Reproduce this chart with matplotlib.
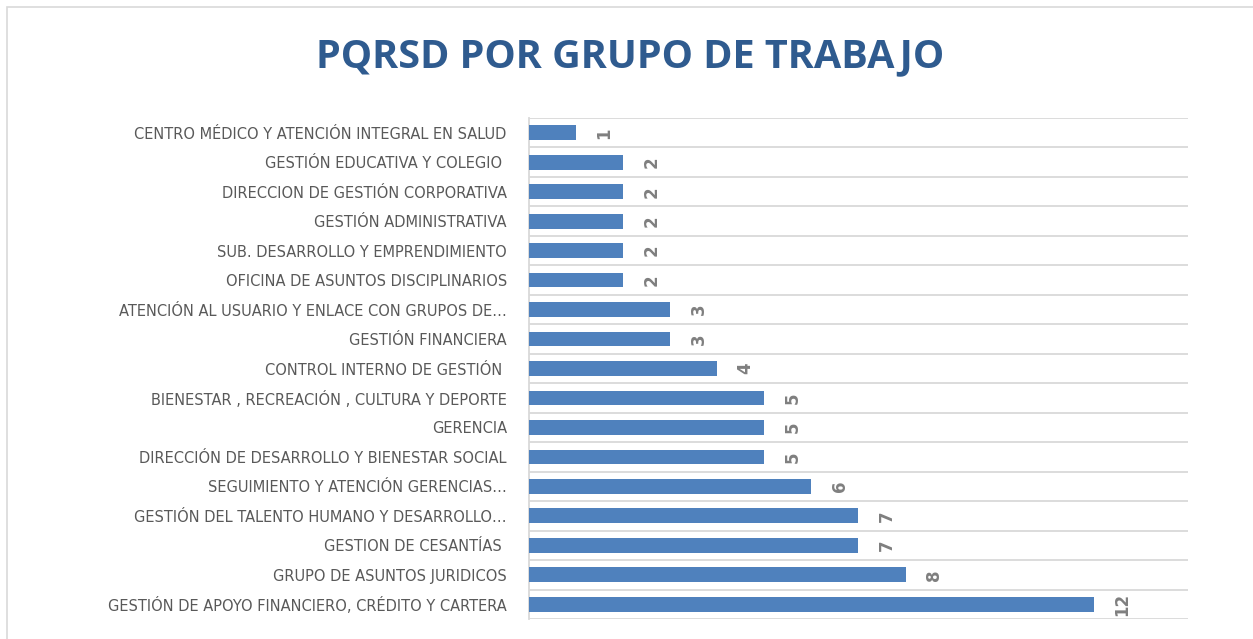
import matplotlib.pyplot as plt
from matplotlib.patches import Rectangle

# Data (top to bottom)
groups = [
    "CENTRO MÉDICO Y ATENCIÓN INTEGRAL EN SALUD",
    "GESTIÓN EDUCATIVA Y COLEGIO ",
    "DIRECCION DE GESTIÓN CORPORATIVA",
    "GESTIÓN ADMINISTRATIVA",
    "SUB. DESARROLLO Y EMPRENDIMIENTO",
    "OFICINA DE ASUNTOS DISCIPLINARIOS",
    "ATENCIÓN AL USUARIO Y ENLACE CON GRUPOS DE…",
    "GESTIÓN FINANCIERA",
    "CONTROL INTERNO DE GESTIÓN ",
    "BIENESTAR , RECREACIÓN , CULTURA Y DEPORTE",
    "GERENCIA",
    "DIRECCIÓN DE DESARROLLO Y BIENESTAR SOCIAL",
    "SEGUIMIENTO Y ATENCIÓN GERENCIAS…",
    "GESTIÓN DEL TALENTO HUMANO Y DESARROLLO…",
    "GESTION DE CESANTÍAS ",
    "GRUPO DE ASUNTOS JURIDICOS",
    "GESTIÓN DE APOYO FINANCIERO, CRÉDITO Y CARTERA",
]
counts = [1, 2, 2, 2, 2, 2, 3, 3, 4, 5, 5, 5, 6, 7, 7, 8, 12]

fig = plt.figure(figsize=(12.53, 6.39), dpi=100)
fig.patch.set_facecolor("white")

# light frame around the chart area
fig.patches.append(Rectangle((0.0056, -0.05), 1.1, 1.039, transform=fig.transFigure,
                             fill=False, edgecolor="#D9D9D9", linewidth=1.2))

ax = fig.add_axes([0.4222, 0.0313, 0.5259, 0.784])
pos = list(range(len(groups)))
ax.barh(pos, counts, height=0.5, color="#4F81BD", zorder=3)

ax.set_xlim(0, 14)
ax.set_ylim(len(groups) - 0.5, -0.5)

# horizontal gridlines at category boundaries
for b in range(len(groups) + 1):
    ax.axhline(b - 0.5, color="#D9D9D9", linewidth=1.3, zorder=1)

ax.set_yticks(pos)
ax.set_yticklabels(groups, fontsize=10.5, color="#595959", family="DejaVu Sans")
ax.tick_params(axis="y", length=0, pad=16)
ax.set_xticks([])
for side in ["top", "right", "bottom"]:
    ax.spines[side].set_visible(False)
ax.spines["left"].set_color("#D9D9D9")
ax.spines["left"].set_linewidth(1.3)

for p, v in zip(pos, counts):
    ax.annotate(str(v), (v, p), xytext=(14, 0), textcoords="offset points",
                rotation=90, ha="left", va="center", fontsize=12,
                fontweight="bold", color="#7F7F7F")

fig.text(0.503, 0.911, "PQRSD POR GRUPO DE TRABAJO", ha="center", va="center",
         fontsize=28.5, fontweight="bold", color="#2F5B8F", family="Open Sans")

fig.savefig("out.png", dpi=100)
